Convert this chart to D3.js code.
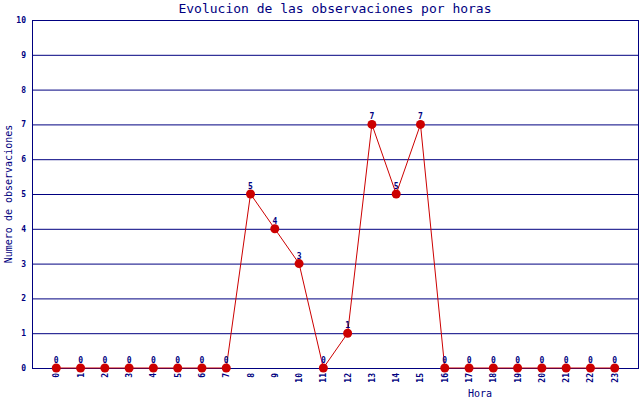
<!DOCTYPE html>
<html>
<head>
<meta charset="utf-8">
<script src="https://cdn.jsdelivr.net/npm/d3@7/dist/d3.min.js"></script>
<style>
  body { margin: 0; background: #fff; }
  svg { display: block; }
  text { font-family: "DejaVu Sans Mono", monospace; fill: #000080; }
</style>
</head>
<body>
<svg id="chart" width="640" height="400"></svg>
<script>
// --- datos ---
const horas = d3.range(0, 24);
const observaciones = [0, 0, 0, 0, 0, 0, 0, 0, 5, 4, 3, 0, 1, 7, 5, 7, 0, 0, 0, 0, 0, 0, 0, 0];
const yTicks = [0, 1, 2, 3, 4, 5, 6, 7, 8, 9, 10];

const navy = "#000080", red = "#cc0000";
const svg = d3.select("#chart");
const mLeft = 32, mRight = 639, mTop = 20, mBottom = 368;

const x = d3.scaleLinear().domain([-1, 24]).range([mLeft, mRight]);
const y = d3.scaleLinear().domain([0, 10]).range([mBottom, mTop]);

// rejilla horizontal
svg.append("g").selectAll("line").data(yTicks).join("line")
  .attr("x1", mLeft).attr("x2", mRight)
  .attr("y1", d => y(d) + 0.5).attr("y2", d => y(d) + 0.5)
  .attr("stroke", navy).attr("stroke-width", 1);

// bordes
svg.append("line").attr("x1", mLeft + 0.5).attr("x2", mLeft + 0.5).attr("y1", mTop).attr("y2", mBottom + 1)
  .attr("stroke", navy);
svg.append("line").attr("x1", mRight - 0.5).attr("x2", mRight - 0.5).attr("y1", mTop).attr("y2", mBottom + 1)
  .attr("stroke", navy);

// etiquetas eje y
svg.append("g").selectAll("text").data(yTicks).join("text")
  .attr("x", 26).attr("y", d => y(d) + 3)
  .attr("text-anchor", "end")
  .style("font-size", "8px").style("font-weight", "bold")
  .text(d => d);

// etiquetas eje x
svg.append("g").selectAll("text").data(horas).join("text")
  .attr("transform", d => `translate(${x(d) + 3},373) rotate(-90)`)
  .attr("text-anchor", "end")
  .style("font-size", "8px").style("font-weight", "bold")
  .text(d => d);

// linea
const line = d3.line().x((d, i) => x(horas[i])).y(d => y(d));
svg.append("path").datum(observaciones)
  .attr("d", line).attr("fill", "none").attr("stroke", red).attr("stroke-width", 1);

// puntos
svg.append("g").selectAll("circle").data(observaciones).join("circle")
  .attr("cx", (d, i) => x(horas[i])).attr("cy", d => y(d))
  .attr("r", 4.5).attr("fill", red);

// valores
svg.append("g").selectAll("text").data(observaciones).join("text")
  .attr("x", (d, i) => x(horas[i])).attr("y", d => y(d) - 5)
  .attr("text-anchor", "middle")
  .style("font-size", "8px").style("font-weight", "bold")
  .text(d => d);

// titulos
svg.append("text").attr("x", 335).attr("y", 13).attr("text-anchor", "middle")
  .style("font-size", "13px").text("Evolucion de las observaciones por horas");
svg.append("text").attr("transform", "translate(12,194) rotate(-90)").attr("text-anchor", "middle")
  .style("font-size", "10px").text("Numero de observaciones");
svg.append("text").attr("x", 480).attr("y", 397).attr("text-anchor", "middle")
  .style("font-size", "10px").text("Hora");
</script>
</body>
</html>
